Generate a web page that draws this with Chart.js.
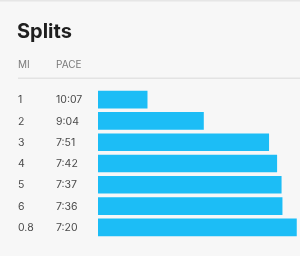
<!DOCTYPE html>
<html><head><meta charset="utf-8">
<script src="https://cdn.jsdelivr.net/npm/chart.js@4/dist/chart.umd.min.js"></script>
<style>html,body{margin:0;padding:0;background:#f7f7f7;overflow:hidden}canvas{display:block}</style>
</head><body>
<canvas id="c" width="300" height="256"></canvas>
<script>
// Data
const title = "Splits";
const headers = ["MI", "PACE"];
const miles = ["1", "2", "3", "4", "5", "6", "0.8"];
const paceLabels = ["10:07", "9:04", "7:51", "7:42", "7:37", "7:36", "7:20"];
const paceSeconds = [607, 544, 471, 462, 457, 456, 440];
const axisSlow = 662;   // pace (s) at the left edge of the bars
const axisFast = 436;   // pace (s) at the right edge of the chart

const textPlugin = {
  id: 'splitText',
  afterDraw(chart) {
    const ctx = chart.ctx;
    const y = chart.scales.y;
    ctx.save();
    ctx.fillStyle = '#e6e6e6';
    ctx.fillRect(0, 0, 300, 1.5);
    ctx.fillStyle = '#1f1f1f';
    ctx.font = 'bold 20px Inter, "Noto Sans", sans-serif';
    ctx.textBaseline = 'alphabetic';
    ctx.textAlign = 'left';
    ctx.fillText(title, 17, 38);
    ctx.fillStyle = '#7a7a7a';
    ctx.font = '10px Inter, "Noto Sans", sans-serif';
    ctx.textBaseline = 'middle';
    ctx.fillText(headers[0], 18, 65);
    ctx.fillText(headers[1], 56, 65);
    ctx.fillStyle = '#e3e3e3';
    ctx.fillRect(18, 77.5, 282, 1.5);
    ctx.fillStyle = '#4a4a4a';
    ctx.font = '10.5px Inter, "Noto Sans", sans-serif';
    miles.forEach((m, i) => {
      const py = y.getPixelForValue(i);
      ctx.fillText(m, 18, py + 0.5);
      ctx.fillText(paceLabels[i], 56, py + 0.5);
    });
    ctx.restore();
  }
};

new Chart(document.getElementById('c'), {
  type: 'bar',
  data: {
    labels: miles,
    datasets: [{
      data: paceSeconds.map(p => [axisSlow, p]),
      backgroundColor: '#1cbdf6',
      borderWidth: 0,
      borderSkipped: false,
      barThickness: 17
    }]
  },
  options: {
    indexAxis: 'y',
    responsive: false,
    animation: false,
    devicePixelRatio: 1,
    layout: { padding: { left: 98, right: 0, top: 89, bottom: 18 } },
    plugins: { legend: { display: false }, tooltip: { enabled: false } },
    scales: {
      x: { type: 'linear', reverse: true, min: axisFast, max: axisSlow, display: false },
      y: { display: false }
    }
  },
  plugins: [textPlugin]
});
</script>
</body></html>
